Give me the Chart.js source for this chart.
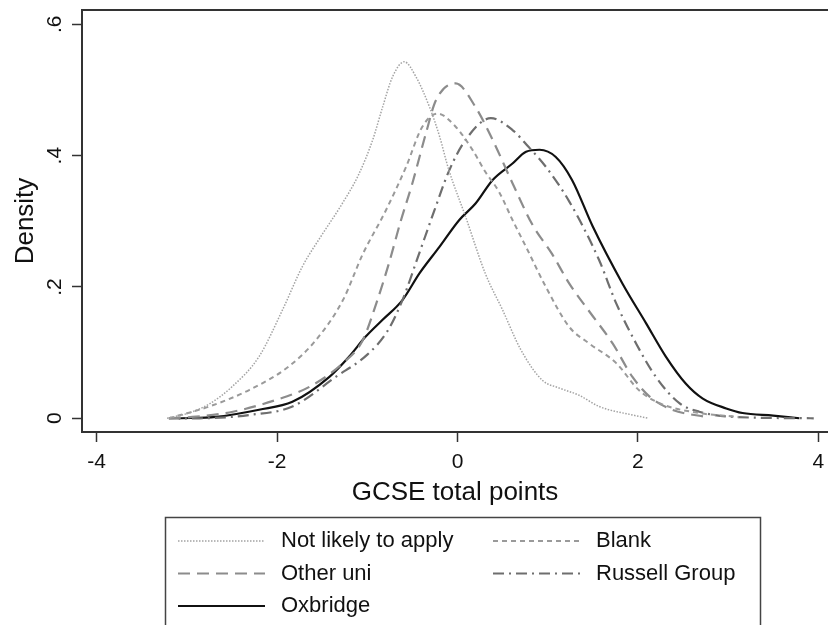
<!DOCTYPE html>
<html>
<head>
<meta charset="utf-8">
<script src="https://cdn.jsdelivr.net/npm/chart.js@4.4.1/dist/chart.umd.min.js"></script>
<style>
  html, body { margin: 0; padding: 0; background: #fff; }
  canvas { display: block; }
</style>
</head>
<body>
<canvas id="chart" width="828" height="625"></canvas>
<script>
// density curves (x = GCSE total points, y = density)
const notLikelyX = [-3.22, -2.98, -2.75, -2.5, -2.2, -1.94, -1.72, -1.5, -1.3, -1.1, -0.94, -0.83, -0.72, -0.59, -0.46, -0.31, -0.2, -0.1, 0.09, 0.31, 0.5, 0.7, 0.94, 1.13, 1.35, 1.57, 1.94, 2.12];
const notLikelyY = [0, 0.008, 0.022, 0.048, 0.094, 0.165, 0.231, 0.28, 0.322, 0.37, 0.424, 0.474, 0.52, 0.543, 0.52, 0.474, 0.43, 0.38, 0.307, 0.22, 0.165, 0.105, 0.058, 0.046, 0.035, 0.018, 0.005, 0];

const blankX = [-3.2, -2.75, -2.31, -1.87, -1.57, -1.27, -1.05, -0.8, -0.57, -0.39, -0.22, -0.02, 0.17, 0.31, 0.46, 0.61, 0.76, 0.98, 1.24, 1.46, 1.76, 2.01, 2.24, 2.68, 3.12];
const blankY = [0, 0.018, 0.043, 0.079, 0.119, 0.18, 0.25, 0.315, 0.383, 0.444, 0.464, 0.444, 0.408, 0.375, 0.345, 0.302, 0.261, 0.2, 0.139, 0.114, 0.084, 0.043, 0.023, 0.008, 0.002];

const otherUniX = [-3.2, -2.94, -2.49, -2.01, -1.64, -1.27, -1.05, -0.9, -0.76, -0.63, -0.5, -0.35, -0.24, -0.02, 0.2, 0.39, 0.61, 0.83, 1.05, 1.24, 1.46, 1.72, 1.94, 2.13, 2.38, 2.75];
const otherUniY = [0, 0.002, 0.01, 0.028, 0.048, 0.084, 0.119, 0.175, 0.236, 0.3, 0.358, 0.434, 0.484, 0.51, 0.474, 0.424, 0.358, 0.295, 0.25, 0.205, 0.163, 0.114, 0.063, 0.033, 0.013, 0.002];

const russellX = [-3.2, -2.86, -2.31, -1.83, -1.35, -1.0, -0.78, -0.61, -0.44, -0.26, -0.09, 0.09, 0.37, 0.61, 0.79, 0.98, 1.24, 1.57, 1.76, 1.98, 2.2, 2.46, 2.68, 3.09, 3.95];
const russellY = [0, 0, 0.005, 0.018, 0.063, 0.097, 0.132, 0.18, 0.245, 0.315, 0.378, 0.424, 0.457, 0.439, 0.413, 0.383, 0.33, 0.241, 0.175, 0.114, 0.063, 0.023, 0.01, 0.002, 0];

const oxbridgeX = [-3.09, -2.68, -2.2, -1.83, -1.42, -1.2, -1.02, -0.83, -0.61, -0.42, -0.2, 0.02, 0.2, 0.39, 0.61, 0.76, 0.91, 1.09, 1.27, 1.5, 1.83, 2.09, 2.31, 2.53, 2.72, 2.98, 3.16, 3.5, 3.79];
const oxbridgeY = [0, 0.002, 0.013, 0.025, 0.063, 0.094, 0.124, 0.15, 0.18, 0.221, 0.261, 0.302, 0.327, 0.363, 0.388, 0.406, 0.409, 0.398, 0.363, 0.292, 0.205, 0.145, 0.094, 0.053, 0.03, 0.015, 0.008, 0.004, 0];

const xTickValues = [-4, -2, 0, 2, 4];
const yTickValues = [0, 0.2, 0.4, 0.6];

const font = '"Liberation Sans", Arial, sans-serif';

function points(xs, ys) {
  return xs.map((x, i) => ({ x: x, y: ys[i] }));
}

// frame top line + boxed two-column legend like the original
const frameAndLegend = {
  id: 'frameAndLegend',
  afterDraw(chart) {
    const { ctx, chartArea } = chart;
    ctx.save();
    ctx.strokeStyle = '#333';
    ctx.lineWidth = 2;
    ctx.beginPath();
    ctx.moveTo(chartArea.left, chartArea.top);
    ctx.lineTo(chartArea.right, chartArea.top);
    ctx.stroke();

    ctx.lineWidth = 1.5;
    ctx.strokeStyle = '#444';
    ctx.strokeRect(165.5, 517.5, 595, 130);

    ctx.font = '22px ' + font;
    ctx.fillStyle = '#111';
    ctx.textBaseline = 'middle';
    chart.data.datasets.forEach((ds, i) => {
      const col = i % 2;
      const row = Math.floor(i / 2);
      const x0 = col ? 493 : 178;
      const y = 541 + row * 32.5;
      ctx.strokeStyle = ds.borderColor;
      ctx.lineWidth = ds.borderWidth;
      ctx.setLineDash(ds.borderDash || []);
      ctx.beginPath();
      ctx.moveTo(x0, y);
      ctx.lineTo(x0 + 87, y);
      ctx.stroke();
      ctx.setLineDash([]);
      ctx.fillText(ds.label, x0 + 103, y);
    });
    ctx.restore();
  }
};

new Chart(document.getElementById('chart'), {
  type: 'line',
  data: {
    datasets: [
      { label: 'Not likely to apply', data: points(notLikelyX, notLikelyY), borderColor: '#a3a3a3', borderWidth: 1.5, borderDash: [1.5, 1.5] },
      { label: 'Blank', data: points(blankX, blankY), borderColor: '#9a9a9a', borderWidth: 2, borderDash: [5, 4] },
      { label: 'Other uni', data: points(otherUniX, otherUniY), borderColor: '#8c8c8c', borderWidth: 2.2, borderDash: [12, 7] },
      { label: 'Russell Group', data: points(russellX, russellY), borderColor: '#6e6e6e', borderWidth: 2.2, borderDash: [11, 5, 2, 5] },
      { label: 'Oxbridge', data: points(oxbridgeX, oxbridgeY), borderColor: '#111111', borderWidth: 2.2, borderDash: [] }
    ]
  },
  options: {
    responsive: false,
    animation: false,
    layout: { padding: { top: 10, right: 0, bottom: 113, left: 0 } },
    plugins: {
      legend: { display: false },
      tooltip: { enabled: false }
    },
    elements: {
      point: { radius: 0 },
      line: { cubicInterpolationMode: 'monotone', fill: false }
    },
    scales: {
      x: {
        type: 'linear',
        min: -4.163,
        max: 4.108,
        afterBuildTicks: s => { s.ticks = xTickValues.map(v => ({ value: v })); },
        afterFit: s => { s.height = 80; s.paddingLeft = 0; s.paddingRight = 0; },
        grid: { drawOnChartArea: false, drawTicks: true, tickLength: 10, tickWidth: 1.5, tickColor: '#333' },
        border: { display: true, color: '#333', width: 2 },
        ticks: { font: { family: font, size: 21 }, color: '#111', padding: 8, maxRotation: 0 },
        title: { display: true, text: 'GCSE total points', font: { family: font, size: 26 }, color: '#111', padding: { top: 0, bottom: 4 } }
      },
      y: {
        min: -0.0209,
        max: 0.6218,
        afterBuildTicks: s => { s.ticks = yTickValues.map(v => ({ value: v })); },
        afterFit: s => { s.width = 82; s.paddingTop = 0; s.paddingBottom = 0; },
        grid: { drawOnChartArea: false, drawTicks: true, tickLength: 10, tickWidth: 1.5, tickColor: '#333' },
        border: { display: true, color: '#333', width: 2 },
        ticks: {
          font: { family: font, size: 21 },
          color: '#111',
          padding: 8,
          minRotation: 90,
          maxRotation: 90,
          crossAlign: 'center',
          callback: v => v === 0 ? '0' : String(v).replace(/^0\./, '.')
        },
        title: { display: true, text: 'Density', font: { family: font, size: 26 }, color: '#111', padding: { top: 10, bottom: 0 } }
      }
    }
  },
  plugins: [frameAndLegend]
});
</script>
</body>
</html>
